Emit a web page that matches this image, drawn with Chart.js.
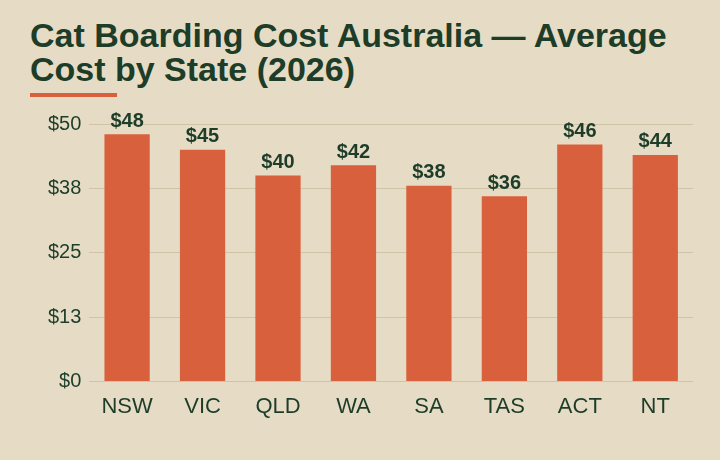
<!DOCTYPE html>
<html><head><meta charset="utf-8">
<script src="https://cdn.jsdelivr.net/npm/chart.js@4/dist/chart.umd.min.js"></script>
<style>
html,body{margin:0;padding:0;background:#e6dcc5;width:720px;height:460px;overflow:hidden;font-family:"Liberation Sans",Arial,sans-serif}
#title{position:absolute;left:30px;top:18px;width:670px;font-weight:bold;font-size:34px;line-height:34px;color:#1d3d29}
#rule{position:absolute;left:30px;top:93px;width:87px;height:4px;background:#d9603c}
#wrap{position:absolute;left:40px;top:104px;width:660px;height:320px}
</style></head><body>
<div id="title">Cat Boarding Cost Australia — Average Cost by State (2026)</div>
<div id="rule"></div>
<div id="wrap"><canvas id="c"></canvas></div>
<script>
const states=["NSW","VIC","QLD","WA","SA","TAS","ACT","NT"];
const costs=[48,45,40,42,38,36,46,44];
const tickValues=[0,12.5,25,37.5,50];
const labelPlugin={id:"lbl",afterDatasetsDraw(ch){const c=ch.ctx;const m=ch.getDatasetMeta(0);c.save();c.font="bold 20px 'Liberation Sans',Arial";c.fillStyle="#1d3d29";c.textAlign="center";c.textBaseline="bottom";m.data.forEach((b,i)=>c.fillText("$"+costs[i],b.x,b.y-3));c.restore();}};
new Chart(document.getElementById("c"),{type:"bar",
data:{labels:states,datasets:[{data:costs,backgroundColor:"#d9603c",barPercentage:0.6,categoryPercentage:1}]},
options:{responsive:true,maintainAspectRatio:false,animation:false,
layout:{padding:{top:20,right:7}},
plugins:{legend:{display:false},tooltip:{enabled:false}},
scales:{
x:{grid:{display:false},border:{display:false},ticks:{color:"#1d3d29",font:{size:22,family:"'Liberation Sans',Arial"},padding:4}},
y:{min:0,max:50,afterBuildTicks(s){s.ticks=tickValues.map(v=>({value:v}));},
grid:{color:"#cfc3a8",drawTicks:false},border:{display:false},
ticks:{color:"#1d3d29",font:{size:20,family:"'Liberation Sans',Arial"},padding:8,callback:v=>"$"+Math.round(v)}}}},
plugins:[labelPlugin]});
</script></body></html>
